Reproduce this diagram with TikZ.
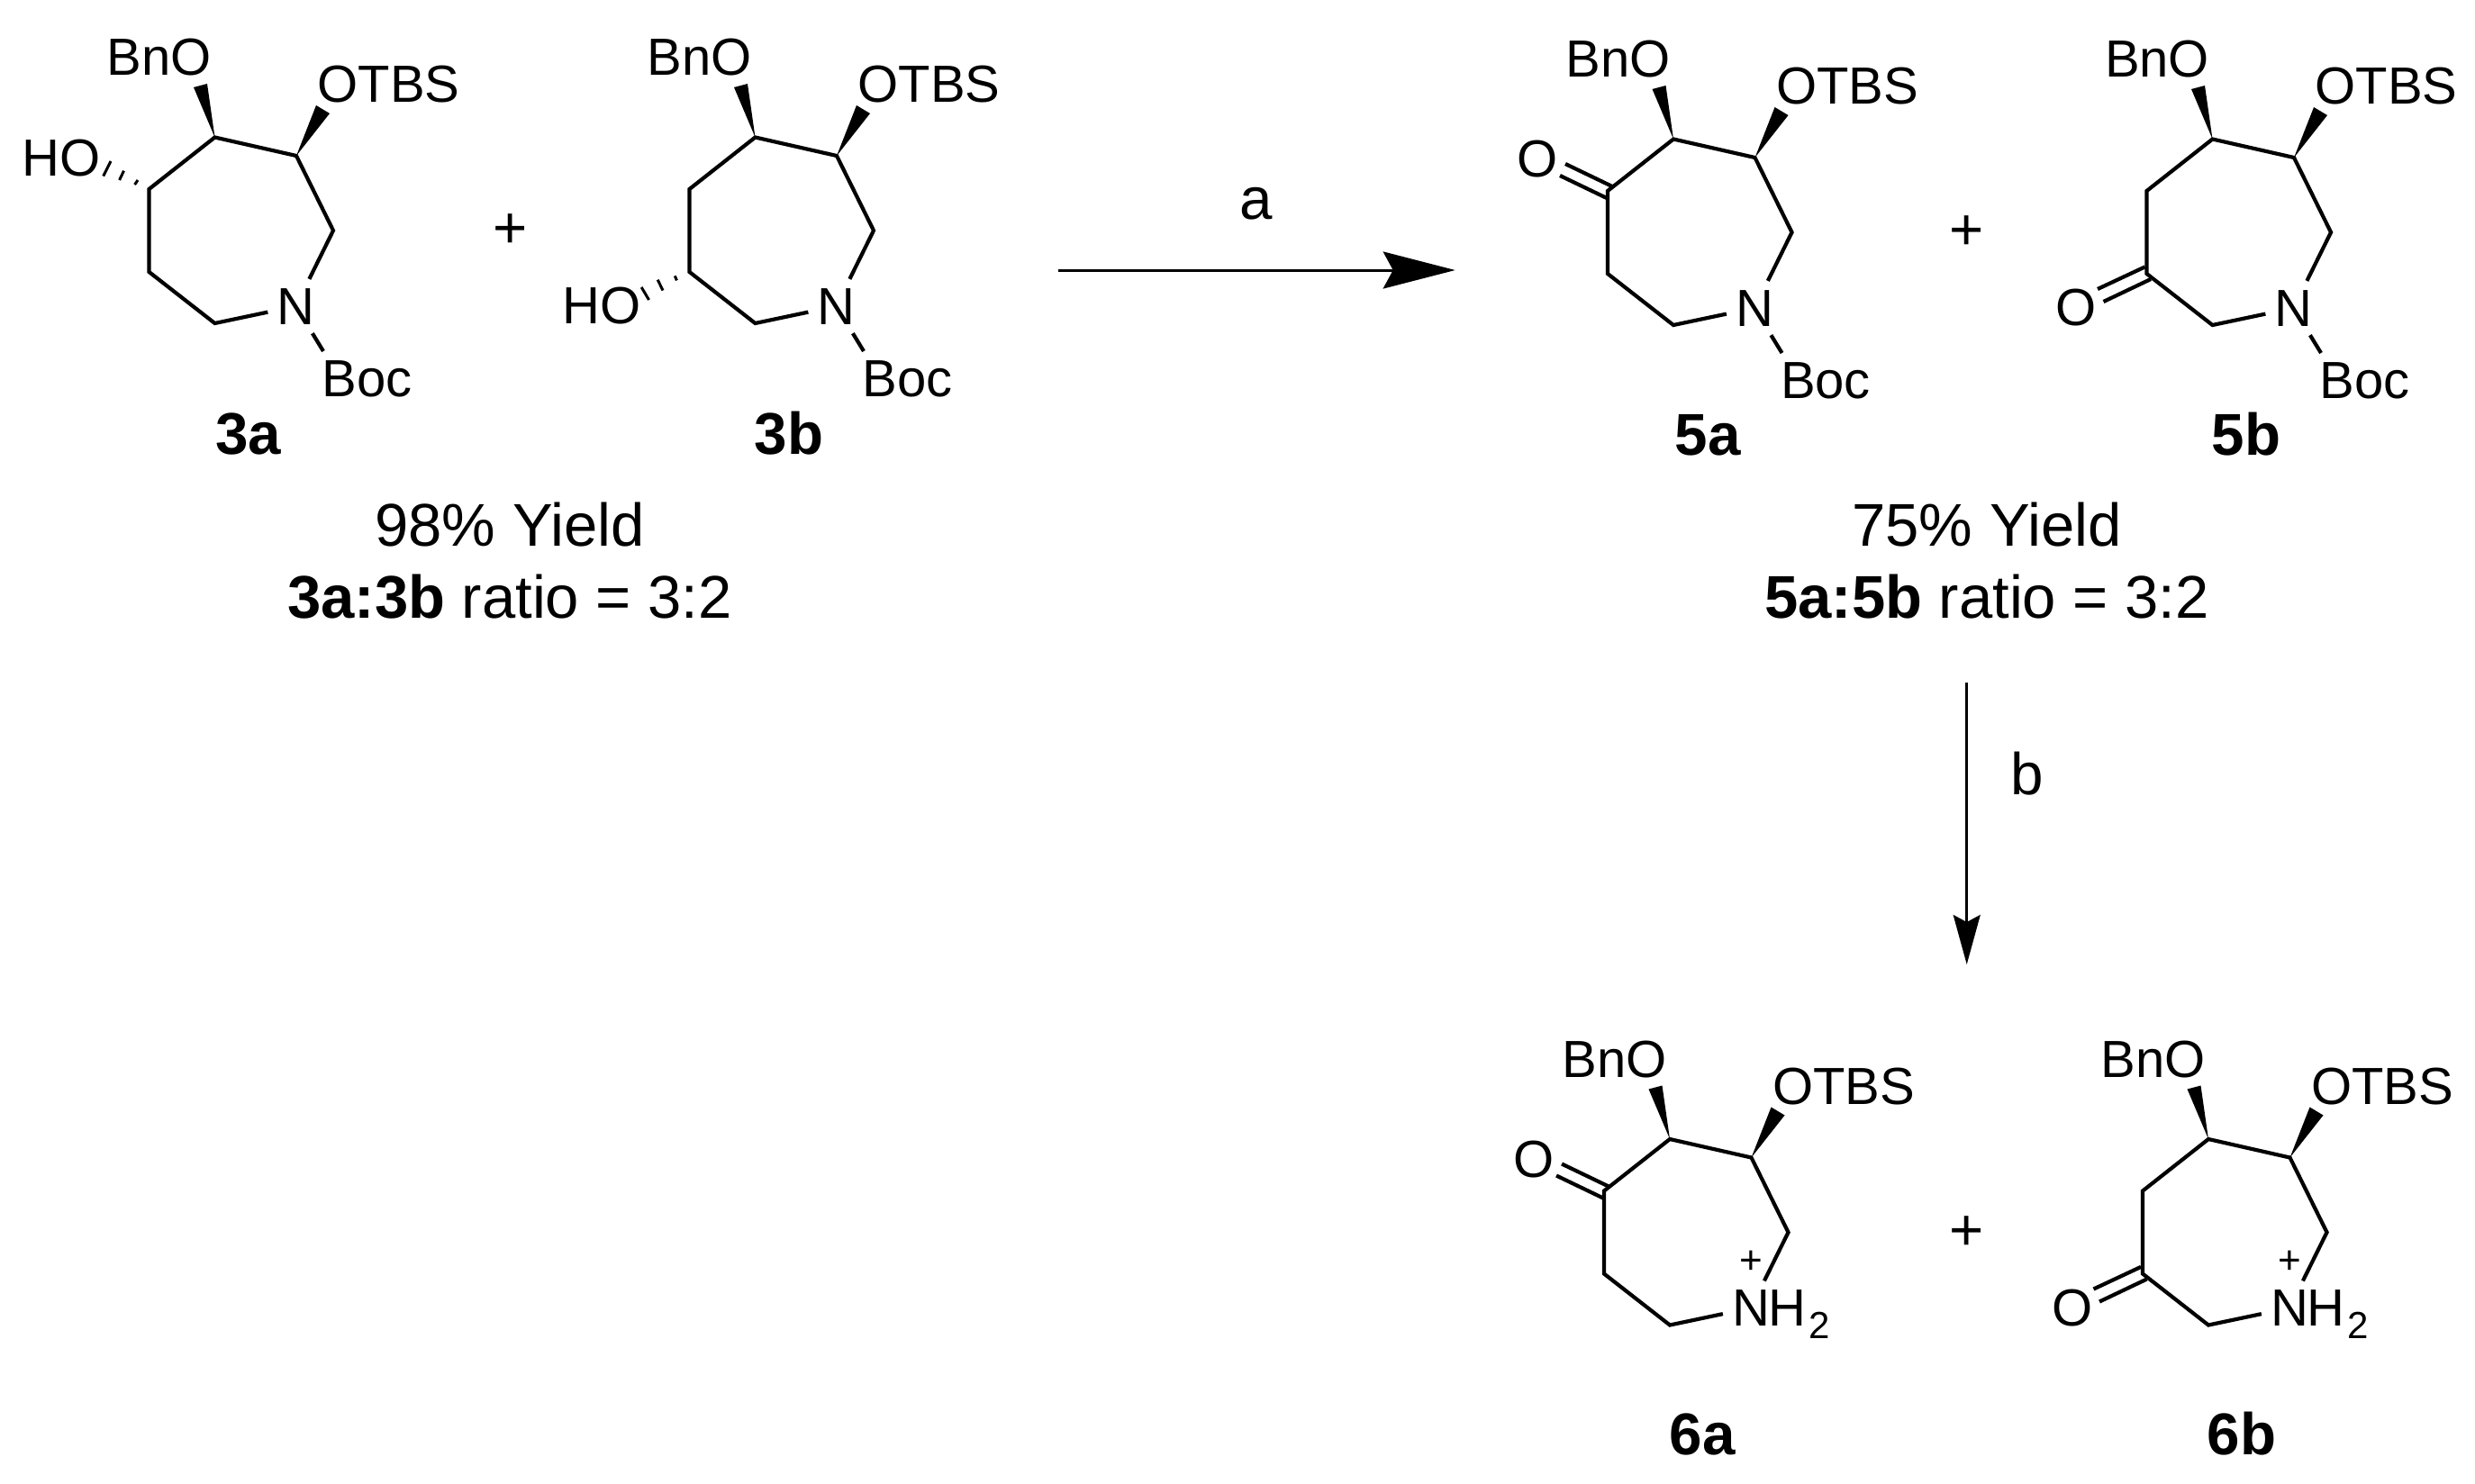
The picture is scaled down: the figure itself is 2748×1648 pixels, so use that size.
\documentclass[tikz,border=0pt]{standalone}
\usepackage{fontspec}
\setmainfont{Liberation Sans}
\usetikzlibrary{arrows.meta}
\newcommand{\atomfnt}{\fontsize{58}{68}\selectfont}
\newcommand{\textfnt}{\fontsize{65.5}{78}\selectfont}
\newcommand{\yieldfnt}{\fontsize{67}{80}\selectfont}
\newcommand{\chargefnt}{\fontsize{44}{52}\selectfont}
\newcommand{\subfnt}{\fontsize{42}{50}\selectfont}
\tikzset{
  bondline/.style={line width=4.2pt},
  hashline/.style={line width=3pt},
  atomlabel/.style={font=\atomfnt,inner sep=0pt,anchor=base},
  clipatom/.style={font=\atomfnt,inner sep=10pt,anchor=base},
  roundatom/.style={font=\atomfnt,inner sep=0pt,anchor=center},
  cpdlabel/.style={font=\textfnt\bfseries,inner sep=0pt,anchor=base},
  bodytext/.style={font=\textfnt,inner sep=0pt,anchor=base},
  yieldtext/.style={font=\yieldfnt,inner sep=0pt,anchor=base},
  plussign/.style={font=\textfnt,inner sep=0pt,anchor=center},
  rxnarrowa/.style={line width=3pt,-{Stealth[length=80pt,width=41pt,inset=11pt]}},
  rxnarrowb/.style={line width=2.6pt,-{Stealth[length=55pt,width=30pt,inset=8pt]}},
}
% common seven-membered ring, in a local frame
\newcommand{\azepcore}{%
  \coordinate (CBn) at (238.5,152.5);
  \coordinate (CTBS) at (329,173);
  \coordinate (CHa) at (370,256);
  \coordinate (CHb) at (238.5,359);
  \coordinate (Cfive) at (165.5,302);
  \coordinate (Csix) at (165.5,210);
  \coordinate (wBa) at (215,97);
  \coordinate (wBb) at (230,93);
  \coordinate (wTa) at (351,117);
  \coordinate (wTb) at (366,126);
  \node[clipatom] (N) at (328.5,360) {N};
  \node[atomlabel] (BnO) at (177,84) {BnO};
  \node[atomlabel] (OTBS) at (431.5,114) {OTBS};
  \draw[bondline] (N) -- (CHa) -- (CTBS) -- (CBn) -- (Csix) -- (Cfive) -- (CHb) -- (N);
  \fill (CBn) -- (wBa) -- (wBb) -- cycle;
  \fill (CTBS) -- (wTa) -- (wTb) -- cycle;
}
\newcommand{\bocgroup}{%
  \node[atomlabel] (Boc) at (407.5,440) {Boc};
  \coordinate (bocend) at (359,390);
  \draw[bondline] (N) -- (bocend);
}
\newcommand{\ammonium}{%
  \node[atomlabel,anchor=base west] (H) at (347.5,360) {H};
  \node[font=\subfnt,inner sep=0pt,anchor=base] (two) at (404.5,374) {2};
  \node[font=\chargefnt,inner sep=0pt,anchor=center] (chg) at (328.5,289.5) {+};
}
\newcommand{\ketoupper}{%
  \node[roundatom] (O) at (87.4,175) {O};
  \coordinate (da) at (118.5,180); \coordinate (db) at (170.5,205);
  \coordinate (dc) at (112.5,193); \coordinate (dd) at (164.5,218);
  \draw[bondline] (da) -- (db);
  \draw[bondline] (dc) -- (dd);
}
\newcommand{\ketolower}{%
  \node[roundatom] (O) at (87.5,340) {O};
  \coordinate (da) at (111,319); \coordinate (db) at (163.5,294.4);
  \coordinate (dc) at (117.5,333); \coordinate (dd) at (170,308);
  \draw[bondline] (da) -- (db);
  \draw[bondline] (dc) -- (dd);
}
\begin{document}
\begin{tikzpicture}[x=1pt,y=-1pt]
\useasboundingbox (0,0) rectangle (2748,1648);
\fill[white] (0,0) rectangle (2748,1648);

% 3a
\begin{scope}[name prefix=ma-]
  \azepcore \bocgroup
  \node[atomlabel] (HO) at (68,196) {HO};
  \coordinate (h1a) at (149.6,205); \coordinate (h1b) at (153,200);
  \coordinate (h2a) at (132.6,200); \coordinate (h2b) at (137.5,189.7);
  \coordinate (h3a) at (114.7,195.5); \coordinate (h3b) at (123,179);
  \draw[hashline] (h1a) -- (h1b);
  \draw[hashline] (h2a) -- (h2b);
  \draw[hashline] (h3a) -- (h3b);
\end{scope}
% 3b
\begin{scope}[shift={(600,0)},name prefix=mb-]
  \azepcore \bocgroup
  \node[atomlabel] (HO) at (68,359) {HO};
  \coordinate (h1a) at (149.3,306.4); \coordinate (h1b) at (151.4,311.4);
  \coordinate (h2a) at (130.2,310.7); \coordinate (h2b) at (136,322.5);
  \coordinate (h3a) at (112.2,319); \coordinate (h3b) at (120.5,333);
  \draw[hashline] (h1a) -- (h1b);
  \draw[hashline] (h2a) -- (h2b);
  \draw[hashline] (h3a) -- (h3b);
\end{scope}
% 5a
\begin{scope}[shift={(1619.5,2)},name prefix=mc-]
  \azepcore \bocgroup \ketoupper
\end{scope}
% 5b
\begin{scope}[shift={(2218,2)},name prefix=md-]
  \azepcore \bocgroup \ketolower
\end{scope}
% 6a
\begin{scope}[shift={(1615.5,1112.5)},name prefix=me-]
  \azepcore \ammonium \ketoupper
\end{scope}
% 6b
\begin{scope}[shift={(2213.5,1112.5)},name prefix=mf-]
  \azepcore \ammonium \ketolower
\end{scope}

% compound labels
\node[cpdlabel] (l3a) at (276,504) {3a};
\node[cpdlabel] (l3b) at (876,504) {3b};
\node[cpdlabel] (l5a) at (1896,505) {5a};
\node[cpdlabel] (l5b) at (2494,505) {5b};
\node[cpdlabel] (l6a) at (1890,1615) {6a};
\node[cpdlabel] (l6b) at (2489,1615) {6b};

% plus signs
\node[plussign] (p1) at (567,257) {+};
\node[plussign] (p2) at (2184,259) {+};
\node[plussign] (p3) at (2184,1370) {+};

% yields
\node[yieldtext] (y3) at (566,606) {98\% Yield};
\node[yieldtext] (r3) at (566,686) {\textbf{3a:3b} ratio = 3:2};
\node[yieldtext] (y5) at (2206,606) {75\% Yield};
\node[yieldtext] (r5) at (2206,686) {\textbf{5a:5b} ratio = 3:2};

% arrows
\coordinate (as) at (1175,300);
\coordinate (ae) at (1615.7,300);
\draw[rxnarrowa] (as) -- (ae);
\node[bodytext] (alabel) at (1395,243) {a};
\coordinate (bs) at (2183.7,758);
\coordinate (be) at (2183.7,1071);
\draw[rxnarrowb] (bs) -- (be);
\node[bodytext] (blabel) at (2251,882) {b};
\end{tikzpicture}
\end{document}
